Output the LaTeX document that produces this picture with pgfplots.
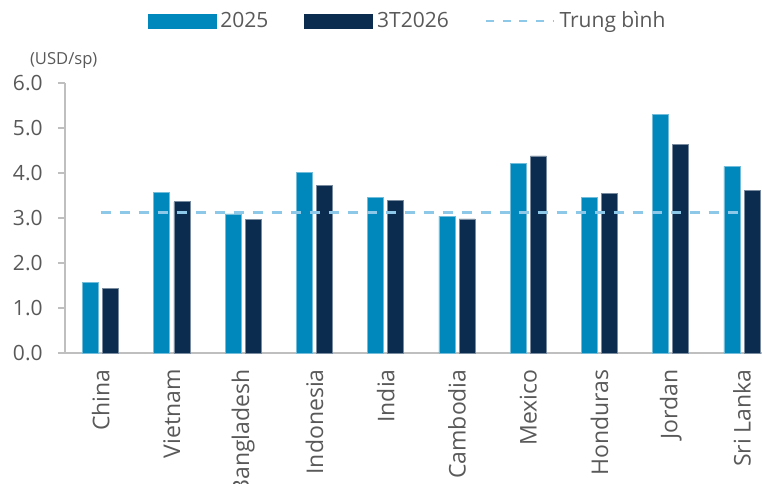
\documentclass[border=0pt]{standalone}
\usepackage{fontspec}
\setmainfont{Open Sans}
\usepackage{pgfplots}
\usepackage{pgfplotstable}
\pgfplotsset{compat=1.18}

\definecolor{c25}{HTML}{0087BB}
\definecolor{c26}{HTML}{0B2C4E}
\definecolor{avg}{HTML}{8DC8E8}
\definecolor{txt}{HTML}{595959}
\definecolor{axgray}{HTML}{BFBFBF}

% gia trung binh (USD/sp)
\pgfplotstableread{
x  y25   y26
0  1.56  1.43
1  3.56  3.36
2  3.09  2.96
3  4.02  3.73
4  3.45  3.40
5  3.04  2.98
6  4.22  4.38
7  3.46  3.54
8  5.30  4.63
9  4.15  3.62
}\prices

\begin{document}
\begin{tikzpicture}
\useasboundingbox (-32.5bp,-65.5bp) rectangle (348.5bp,176.5bp);
\begin{axis}[
    scale only axis,
    width=348.5bp, height=135bp,
    xmin=-0.5, xmax=9.28,
    ymin=0, ymax=6,
    axis lines*=left,
    axis line style={draw=axgray, line width=0.8bp},
    ytick={0,1,...,6},
    yticklabel style={/pgf/number format/fixed, /pgf/number format/fixed zerofill,
        /pgf/number format/precision=1},
    /pgf/number format/assume math mode=true,
    tick align=outside,
    major tick length=3.5bp,
    ytick style={draw=axgray, line width=0.8bp},
    xtick style={draw=none},
    xtick=data,
    xticklabels={China,Vietnam,Bangladesh,Indonesia,India,Cambodia,Mexico,Honduras,Jordan,Sri Lanka},
    xticklabel style={rotate=90, anchor=east, inner sep=0pt, font=\fontsize{11.5bp}{13bp}\selectfont},
    xticklabel shift=4.5bp,
    yticklabel style={inner sep=0pt, font=\fontsize{10.5bp}{12bp}\selectfont},
    yticklabel shift=7.5bp,
    tick label style={text=txt},
    ybar, bar width=0.225,
    legend columns=3,
    legend style={at={(0.4928,1.23)}, anchor=center, draw=none, fill=none,
        font=\fontsize{10.5bp}{12bp}\selectfont, text=txt,
        /tikz/every even column/.append style={column sep=16bp}},
    legend cell align=left,
    clip=false,
]
\addplot[fill=c25, draw=c25!55!white, line width=0.4bp, bar shift=-0.141,
    legend image code/.code={\fill[c25] (0bp,-3.5bp) rectangle (34bp,3.5bp);}]
    table[x=x, y=y25] {\prices};
\addlegendentry{2025}
\addplot[fill=c26, draw=c26!55!white, line width=0.4bp, bar shift=0.141,
    legend image code/.code={\fill[c26] (0bp,-3.5bp) rectangle (34bp,3.5bp);}]
    table[x=x, y=y26] {\prices};
\addlegendentry{3T2026}
\addplot[sharp plot, avg, line width=1.4bp, dash pattern=on 5bp off 4.5bp,
    legend image code/.code={\draw[avg, line width=1.4bp, dash pattern=on 4bp off 4.3bp] (0bp,0bp) -- (34bp,0bp);}]
    coordinates {(0,3.13) (9,3.13)};
\addlegendentry{Trung bình}
\node[anchor=west, text=txt, font=\fontsize{8.3bp}{10bp}\selectfont]
    at ([xshift=-21bp, yshift=11.5bp]rel axis cs:0,1) {(USD/sp)};
\end{axis}
\end{tikzpicture}
\end{document}
